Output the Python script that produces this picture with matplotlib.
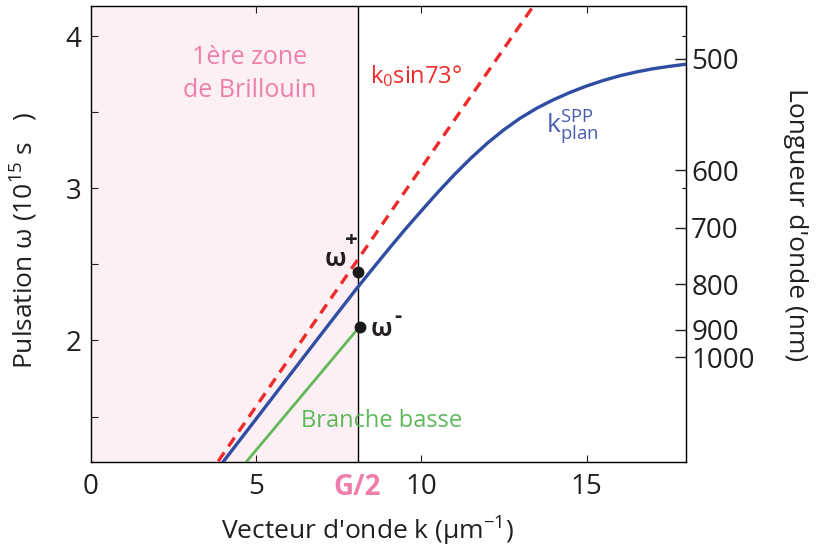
"""
Dispersion SPP : relation omega(k), zone de Brillouin et branches
"""
import numpy as np
import matplotlib
matplotlib.use("Agg")
import matplotlib.pyplot as plt

plt.rcParams['font.family'] = ['Open Sans', 'DejaVu Sans']
plt.rcParams['mathtext.default'] = 'regular'

# donnees
k_spp = [3.99, 5.0, 6.0, 7.0, 8.0, 8.5, 9.0, 9.5, 10.0, 10.5, 11.0, 11.5, 12.0, 12.5,
         13.0, 13.5, 14.0, 14.5, 15.0, 15.5, 16.0, 16.5, 17.0, 17.5, 18.0]
w_spp = [1.2, 1.485, 1.768, 2.05, 2.33, 2.465, 2.598, 2.728, 2.852, 2.974, 3.09, 3.198,
         3.297, 3.385, 3.462, 3.527, 3.582, 3.63, 3.672, 3.708, 3.739, 3.764, 3.785,
         3.801, 3.815]

k_light = [0.0, 18.0]
pente_light = 0.3135           # k0 sin73

k_basse = [4.69, 8.05]
w_basse = [1.2, 2.07]

G2 = 8.07
w_plus = 2.45
w_moins = 2.086

wl_ticks = [500, 600, 700, 800, 900, 1000]
wl_omega = [3.85, 3.12, 2.74, 2.37, 2.07, 1.89]

rose = '#EE7FAA'
noir = '#231f20'

fig = plt.figure(figsize=(8.19, 5.49), dpi=100)
ax = fig.add_axes([0.1111, 0.158, 0.7261, 0.8317])

ax.axvspan(0, G2, color='#FCF0F5', zorder=0, lw=0)
ax.axvline(G2, color='k', lw=1.0, zorder=1)

w_light = [pente_light * k for k in k_light]
ax.plot(k_light, w_light, color='#EE2A2A', lw=2.4, ls=(0, (3.2, 2.2)), zorder=3)
ax.plot(k_spp, w_spp, color='#2F4DA3', lw=2.4, zorder=4)
ax.plot(k_basse, w_basse, color='#62B857', lw=2.0, zorder=3)
ax.plot([G2, G2 + 0.06], [w_plus, w_moins], 'o', color='#1a1a1a', ms=7.5, zorder=5)

ax.set_xlim(0, 18)
ax.set_ylim(1.2, 4.2)

ax.set_xticks([0, 5, G2, 10, 15])
ax.set_xticklabels(['0', '5', 'G/2', '10', '15'])
ax.set_yticks([2, 3, 4])
ax.set_yticks([1.5, 2.5, 3.5], minor=True)
ax.tick_params(axis='both', which='both', direction='in', length=5, width=0.8,
               labelsize=20, colors=noir, top=True, right=False, pad=7)
ax.tick_params(axis='x', pad=8)

lab = ax.get_xticklabels()[2]
lab.set_color(rose)
lab.set_fontweight('bold')
for i in (0, 2):
    ax.xaxis.get_major_ticks()[i].tick1line.set_visible(False)
    ax.xaxis.get_major_ticks()[i].tick2line.set_visible(False)

for s in ax.spines.values():
    s.set_linewidth(1.0)
    s.set_color(noir)

ax.set_xlabel("Vecteur d'onde k (\u03bcm$^{-1}$)", fontsize=19, color=noir)
ax.set_ylabel("Pulsation \u03c9 (10$^{15}$ s   )", fontsize=19, color=noir)
ax.xaxis.set_label_coords(0.465, -0.115)
ax.yaxis.set_label_coords(-0.085, 0.485)

ax2 = ax.twinx()
ax2.set_ylim(1.2, 4.2)
ax2.set_yticks(wl_omega)
ax2.set_yticklabels([str(v) for v in wl_ticks])
ax2.set_yticks([3.0, 4.0], minor=True)
ax2.tick_params(axis='y', which='major', direction='in', length=8, width=1.0,
                labelsize=20, colors=noir, pad=4)
ax2.tick_params(axis='y', which='minor', direction='in', length=3, width=0.8)
ax2.set_ylabel("Longueur d'onde (nm)", fontsize=19, rotation=-90, color=noir)
ax2.yaxis.set_label_coords(1.205, 0.52)

# textes
ax.text(4.8, 3.75, "1\u00e8re zone\nde Brillouin", color=rose, fontsize=18,
        ha='center', va='center', linespacing=1.4)
ax.text(8.45, 3.74, "k$_0$sin73\u00b0", color='#EE2A2A', fontsize=17, ha='left', va='center')
ax.text(13.76, 3.40, "k$^{SPP}_{plan}$", color='#4A5DB0', fontsize=19, ha='left', va='center')
ax.text(6.35, 1.47, "Branche basse", color='#5DB85A', fontsize=17, ha='left', va='center')

ax.text(7.72, 2.49, "\u03c9", fontsize=18, fontweight='bold', ha='right', va='baseline', color=noir)
ax.text(7.70, 2.62, "+", fontsize=16, fontweight='bold', ha='left', va='baseline', color=noir)
ax.text(8.45, 2.03, "\u03c9", fontsize=18, fontweight='bold', ha='left', va='baseline', color=noir)
ax.text(9.18, 2.12, "-", fontsize=16, fontweight='bold', ha='left', va='baseline', color=noir)

fig.savefig("out.png", dpi=100)
